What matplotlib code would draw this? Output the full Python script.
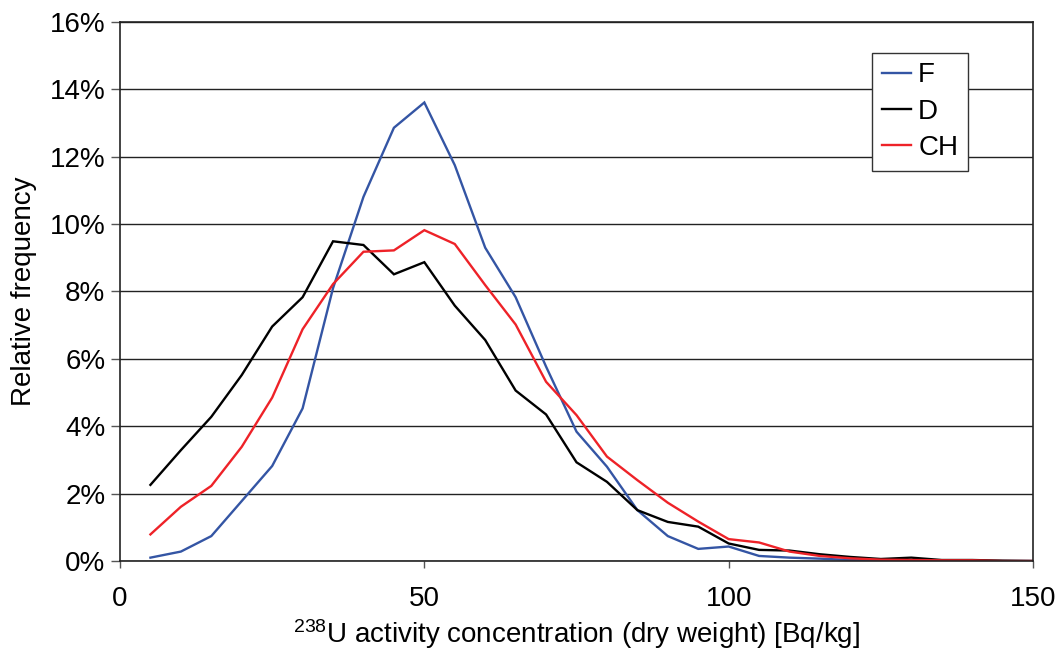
import matplotlib
matplotlib.use("Agg")
import matplotlib.pyplot as plt
from matplotlib.ticker import FuncFormatter, MultipleLocator

plt.rcParams['font.family'] = ['Liberation Sans', 'DejaVu Sans']
plt.rcParams['mathtext.fontset'] = 'custom'
plt.rcParams['mathtext.rm'] = 'Liberation Sans'
plt.rcParams['mathtext.default'] = 'regular'

# Bin centres of the activity concentration (Bq/kg)
conc = [5, 10, 15, 20, 25, 30, 35, 40, 45, 50, 55, 60, 65, 70, 75,
        80, 85, 90, 95, 100, 105, 110, 115, 120, 125, 130, 135, 140, 145, 150]

# Relative frequency (%) per country
freq_f = [0.10, 0.28, 0.74, 1.78, 2.82, 4.53, 8.10, 10.81, 12.86, 13.61,
          11.75, 9.30, 7.83, 5.77, 3.84, 2.80, 1.51, 0.74, 0.36, 0.43,
          0.15, 0.10, 0.07, 0.03, 0.02, 0.01, 0.01, 0.0, 0.0, 0.0]
freq_d = [2.26, 3.29, 4.28, 5.52, 6.96, 7.83, 9.49, 9.38, 8.51, 8.87,
          7.58, 6.56, 5.06, 4.35, 2.93, 2.35, 1.51, 1.16, 1.02, 0.52,
          0.33, 0.31, 0.20, 0.12, 0.06, 0.10, 0.03, 0.03, 0.01, 0.0]
freq_ch = [0.79, 1.61, 2.23, 3.39, 4.85, 6.88, 8.22, 9.18, 9.22, 9.82,
           9.41, 8.19, 7.02, 5.32, 4.33, 3.10, 2.40, 1.73, 1.17, 0.65,
           0.55, 0.28, 0.15, 0.08, 0.04, 0.03, 0.02, 0.02, 0.0, 0.0]

series = [("F", freq_f, "#3455A4"), ("D", freq_d, "#000000"), ("CH", freq_ch, "#EE2228")]

fig = plt.figure(figsize=(10.62, 6.58), dpi=100)
ax = fig.add_axes([0.113, 0.1474, 0.8597, 0.8192])

for name, vals, col in series:
    ax.plot(conc, [v / 100 for v in vals], color=col, lw=1.7, label=name,
            solid_joinstyle='miter')

ax.set_xlim(0, 150)
ax.set_ylim(0, 0.16)
ax.xaxis.set_major_locator(MultipleLocator(50))
ax.yaxis.set_major_locator(MultipleLocator(0.02))
ax.yaxis.set_major_formatter(FuncFormatter(lambda v, p: f"{v * 100:.0f}%"))
ax.grid(axis='y', color='#222222', lw=1.0)
ax.set_axisbelow(True)
for s in ax.spines.values():
    s.set_color('#222222')
    s.set_linewidth(1.2)

ax.tick_params(axis='both', labelsize=20, width=1.0, color='#555555', direction='out')
ax.tick_params(axis='x', length=5, pad=13)
ax.tick_params(axis='y', length=6.5, pad=4)

ax.set_xlabel("$^{238}$U activity concentration (dry weight) [Bq/kg]", fontsize=20, labelpad=4)
ax.set_ylabel("Relative frequency", fontsize=20, labelpad=9)

leg = ax.legend(loc='upper left', bbox_to_anchor=(0.824, 0.943), fontsize=20,
                frameon=True, fancybox=False, edgecolor='#333333', framealpha=1,
                handlelength=1.05, handletextpad=0.25, borderpad=0.35, labelspacing=0.37,
                borderaxespad=0)
leg.get_frame().set_linewidth(1.0)

fig.savefig("out.png", dpi=100, facecolor='white')
